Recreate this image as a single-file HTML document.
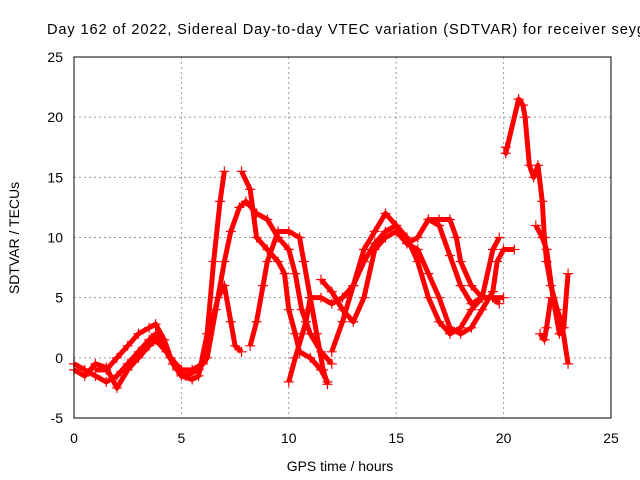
<!DOCTYPE html>
<html><head><meta charset="utf-8"><style>
body{margin:0;background:#fff}
svg{display:block;font-family:"Liberation Sans",sans-serif}
</style></head><body>
<svg id="chart" width="640" height="480">
<text x="47" y="34" font-size="14.6" textLength="598" lengthAdjust="spacing" fill="#000">Day 162 of 2022, Sidereal Day-to-day VTEC variation (SDTVAR) for receiver seyg</text>
<text x="340" y="471" font-size="14" text-anchor="middle">GPS time / hours</text>
<text transform="translate(19,238) rotate(-90)" font-size="14" text-anchor="middle">SDTVAR / TECUs</text>
<g id="grid"></g><g id="ticks"></g><g id="marks"></g>
<rect x="74" y="57" width="537" height="361" fill="none" stroke="#000"/>
</svg>
<script>
const xTicks=[0,5,10,15,20,25];
const yTicks=[-5,0,5,10,15,20,25];
const s1=[[0,-0.5],[0.5,-1],[1,-1.5],[1.5,-2],[2,-1.5],[2.5,-0.5],[3,0.5],[3.5,1.5],[3.8,2],[4.2,1],[4.6,-0.5],[5,-1.5],[5.5,-1.8],[5.8,-1.5],[6.2,2],[6.5,8],[6.8,13],[7,15.5]];
const s2=[[0,-1],[0.5,-1.5],[1,-0.5],[1.5,-0.8],[2,-2.5],[2.5,-1],[3,0],[3.5,1],[3.8,1.5],[4.3,0.5],[4.8,-1],[5.2,-1.5],[5.8,-1],[6.2,0],[6.6,4],[7,8],[7.3,10.5],[7.7,12.5],[8,13],[8.5,12],[9,11.5],[9.5,10],[10,9],[10.3,7],[10.6,4],[11,2],[11.5,0.5],[12,-0.5]];
const s3=[[1,-1],[1.5,-1],[2,0],[2.5,1],[3,2],[3.5,2.5],[3.8,2.8],[4.2,1.5],[4.5,0],[5,-1],[5.5,-1],[6,-0.5],[6.3,2],[6.7,5],[7,6],[7.3,3],[7.5,1],[7.8,0.5]];
const s4=[[7.8,15.5],[8.2,14],[8.5,10],[9,9],[9.5,8],[9.8,7],[10,4],[10.3,2],[10.5,0.5],[11,0],[11.5,-1],[11.8,-2]];
const s5=[[8.2,1],[8.5,3],[8.8,6],[9,8],[9.5,10.5],[10,10.5],[10.5,10],[10.7,8],[11,5],[11.3,2],[11.6,-1],[11.8,-2.2]];
const s6=[[10,-2],[10.3,0],[10.8,3],[11,5],[11.5,5],[12,4.5],[12.5,5],[13,6],[13.5,8],[14,9.5],[14.5,10.5],[15,11],[15.5,10],[16,8],[16.5,5],[17,3],[17.5,2],[18,2.5],[18.5,4],[19,5],[19.5,5],[20,5]];
const s7=[[11.5,6.5],[12,5.5],[12.5,4],[13,3],[13.5,5],[14,9],[14.5,10],[15,10.5],[15.5,9.5],[16,9],[16.5,7],[17,5],[17.5,2.5],[18,2],[18.5,2.5],[19,4],[19.5,5.5],[19.7,8],[20,9],[20.5,9]];
const s8=[[12,0.5],[12.5,3],[13,6],[13.5,9],[14,10.5],[14.5,12],[15,11],[15.5,9.5],[16,10],[16.5,11.5],[17,11],[17.5,8.5],[18,6],[18.5,4.5],[19,5],[19.5,9],[19.8,10]];
const s9=[[16.5,11.5],[17,11.5],[17.5,11.5],[17.8,10],[18,8],[18.5,6],[19,5],[19.5,5],[19.8,4.5]];
const s10=[[20.1,17.5],[20.1,17],[20.7,21.5],[20.9,21],[21,20],[21.2,16],[21.4,15],[21.6,16],[21.8,13],[21.9,10],[22,8],[22.2,6],[22.5,4],[22.7,3],[23,-0.5]];
const s11=[[21.5,11],[21.8,10],[22,9],[22.3,5],[22.6,2],[22.8,2.5],[23,7]];
const s12=[[21.7,2],[21.9,1.5],[22,2.5],[22.2,5]];
const series=[s1,s2,s3,s4,s5,s6,s7,s8,s9,s10,s11,s12];
const NS='http://www.w3.org/2000/svg';
const X=v=>74+v/25*537, Y=v=>418-(v+5)/30*361;
const g=document.getElementById('grid'),t=document.getElementById('ticks'),m=document.getElementById('marks');
function mk(tag,a,p){const e=document.createElementNS(NS,tag);for(const k in a)e.setAttribute(k,a[k]);p.appendChild(e);return e;}
xTicks.forEach(v=>{
 if(v>0&&v<25){const l=mk('line',{x1:X(v),x2:X(v),y1:57,y2:418,stroke:'#999','stroke-dasharray':'2,3'},g);
 
 }
 const tx=mk('text',{x:X(v),y:443,'font-size':14,'text-anchor':'middle'},t);tx.textContent=v;
 
 
});
yTicks.forEach(v=>{
 if(v>-5&&v<25){const l=mk('line',{x1:74,x2:611,y1:Y(v),y2:Y(v),stroke:'#999','stroke-dasharray':'2,3'},g);
 
 }
 const tx=mk('text',{x:63,y:Y(v)+5,'font-size':14,'text-anchor':'end'},t);tx.textContent=v;
 
 
});
series.forEach((s,i)=>{
 const pl=mk('polyline',{points:s.map(p=>X(p[0])+','+Y(p[1])).join(' '),fill:'none',stroke:'#f00','stroke-width':5,'stroke-linejoin':'round'},m);
 
 
 s.forEach(p=>{const x=X(p[0]),y=Y(p[1]);
  const c=mk('path',{d:`M${x-5},${y}h10M${x},${y-5}v10`,stroke:'#f00','stroke-width':1.2},m);
  
  });
});
</script>
</body></html>
